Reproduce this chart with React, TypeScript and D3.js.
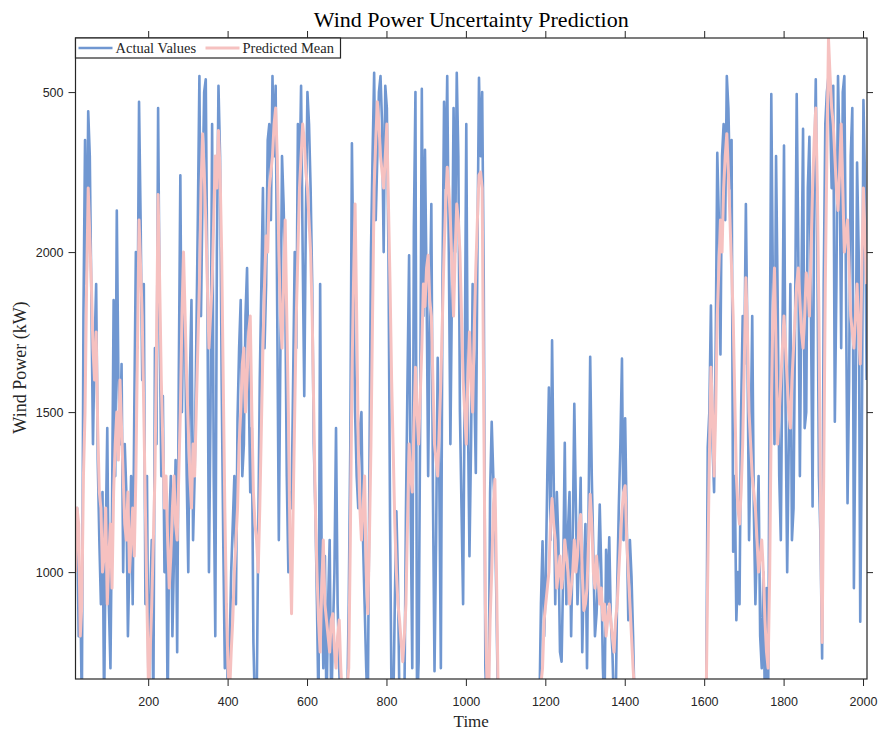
import React, { useEffect, useRef } from 'react';
import * as d3 from 'd3';

// time axis: one sample every STEP units, starting at T0
const T0 = 17;
const STEP = 4;

// actual wind power (kW); values under the axis floor are clipped
const actualValues = [
  // t 17 - 405
  1150, 1200, 800, 950, 560, 1800, 2350, 1900, 2440, 2300,
  1850, 1400, 1700, 1900, 1350, 1100, 900, 1250, 560, 1100,
  1450, 900, 700, 1200, 1850, 1300, 2130, 1600, 1400, 1650,
  1000, 1400, 1250, 800, 1050, 1300, 900, 1500, 2000, 1700,
  2470, 2100, 1600, 1900, 900, 1300, 560, 900, 1100, 560,
  1700, 1400, 2450, 1800, 1300, 1550, 1000, 1250, 560, 1150,
  1300, 800, 1050, 1350, 750, 1600, 2240, 1500, 1900, 1750,
  1300, 1000, 1600, 1850, 1100, 1300, 1700, 2100, 2550, 1800,
  2200, 2500, 2540, 1900, 1000, 1500, 2400, 1300, 800, 2000,
  2520, 2300, 1600, 1100, 700, 900, 560, 750,
  // t 409 - 797
  1000, 1150, 1300, 900, 1480, 1700, 1850, 1300, 1400, 1800,
  1950, 1600, 1250, 1450, 780, 560, 560, 1100, 1600, 1900,
  2200, 1700, 1900, 2350, 2400, 2100, 2550, 2300, 2520, 1800,
  1100, 1700, 2300, 2150, 1900, 1300, 1000, 1250, 1200, 1600,
  2000, 1700, 2400, 2200, 2520, 2000, 1550, 2100, 2500, 2400,
  2200, 1900, 1400, 1200, 900, 560, 1900, 1000, 700, 1050,
  560, 900, 1100, 560, 800, 1000, 1450, 900, 700, 560,
  560, 560, 560, 560, 900, 1400, 2340, 1900, 1500, 1300,
  1200, 1450, 1500, 1100, 900, 700, 560, 1300, 2000, 2300,
  2560, 2100, 2300, 2500, 2550, 2400, 2000, 2520,
  // t 801 - 1085
  2450, 2000, 1170, 560, 560, 900, 1190, 975, 560, 560,
  560, 560, 1180, 1600, 1990, 1200, 700, 2075, 2500, 560,
  720, 1500, 2510, 1800, 2320, 1900, 1300, 1800, 2150, 1250,
  690, 1100, 1670, 1300, 700, 1900, 2470, 2200, 2550, 2000,
  1400, 1900, 2450, 2000, 2560, 2300, 1500, 1200, 900, 1600,
  2400, 1500, 1050, 1400, 1900, 1600, 1310, 2000, 2545, 2300,
  2500, 1900, 700, 560, 560, 1250, 1470, 1300, 1200, 900,
  560, 560,
  // t 1089 - 1181
  560, 560, 560, 560, 560, 560, 560, 560, 560, 560, 560, 560,
  560, 560, 560, 560, 560, 560, 560, 560, 560, 560, 560, 560,
  // t 1185 - 1429
  560, 900, 1096, 800, 975, 1300, 1577, 1100, 1724, 1300,
  900, 1250, 1090, 750, 720, 1000, 1404, 900, 1130, 1250,
  800, 1100, 1526, 1200, 900, 1050, 1295, 750, 1000, 1150,
  700, 1200, 1673, 1300, 1050, 800, 870, 1000, 1211, 1000,
  700, 560, 1070, 900, 1109, 850, 750, 560, 560, 950,
  1200, 1400, 1667, 1100, 1481, 1150, 850, 1100, 987, 800,
  560, 560,
  // t 1433 - 1605
  560, 560, 560, 560, 560, 560, 560, 560, 560, 560, 560, 560,
  560, 560, 560, 560, 560, 560, 560, 560, 560, 560, 560, 560,
  560, 560, 560, 560, 560, 560, 560, 560, 560, 560, 560, 560,
  560, 560, 560, 560, 560, 560, 560, 560,
  // t 1609 - 2009
  1390, 1500, 1833, 1400, 1250, 1700, 2310, 2100, 1680, 2300,
  2400, 2100, 2550, 2450, 2200, 2350, 1064, 1300, 850, 1000,
  900, 1500, 1800, 1650, 2150, 1700, 1100, 1400, 1800, 1200,
  900, 1100, 1300, 800, 700, 1000, 560, 950, 560, 1600,
  2494, 1900, 1400, 2300, 1860, 1300, 1100, 1700, 2333, 1500,
  1000, 1400, 1900, 1100, 1200, 1800, 2494, 2000, 1300, 1900,
  2385, 1450, 1500, 2200, 2360, 1800, 1205, 2200, 2540, 2000,
  1300, 1100, 730, 1900, 2400, 2500, 2550, 2450, 2200, 2520,
  1470, 1900, 2550, 2300, 1700, 2500, 2550, 1900, 1215, 1600,
  2300, 2450, 950, 1500, 2280, 2000, 845, 1400, 2475, 2230,
  1600,
];

// predicted mean (kW)
const predictedMean = [
  // t 17 - 405
  1000, 1200, 1150, 800, 900, 1300, 1500, 1900, 2200, 2050,
  1900, 1700, 1600, 1750, 1450, 1250, 1200, 1000, 1050, 1200,
  900, 1050, 1150, 950, 1250, 1400, 1500, 1350, 1600, 1450,
  1300, 1150, 1100, 1250, 1000, 1100, 1200, 1050, 1300, 1700,
  2100, 1950, 1800, 1500, 1200, 900, 620, 750, 900, 1100,
  1300, 1700, 2180, 1900, 1600, 1400, 1200, 1300, 1100, 950,
  1050, 1200, 1300, 1150, 1100, 1300, 1500, 1800, 2000, 1800,
  1600, 1450, 1300, 1200, 1400, 1300, 1500, 1700, 1900, 2200,
  2370, 2250, 2100, 1900, 1700, 1800, 1900, 2100, 2300, 2200,
  2380, 2250, 2000, 1600, 1200, 900, 700, 620,
  // t 409 - 797
  750, 850, 1000, 1100, 1200, 1400, 1500, 1650, 1700, 1500,
  1600, 1750, 1800, 1500, 1250, 1150, 1100, 1000, 1200, 1450,
  1700, 1900, 2050, 2000, 2200, 2250, 2300, 2400, 2450, 2300,
  2000, 1800, 1700, 1900, 2100, 1800, 1500, 1100, 870, 1200,
  1500, 1800, 2000, 2200, 2300, 2400, 2350, 2250, 2200, 2100,
  2000, 1800, 1500, 1200, 1000, 850, 750, 950, 1100, 900,
  850, 800, 750, 850, 870, 760, 700, 800, 850, 700,
  600, 600, 620, 640, 700, 1100, 1600, 1900, 2150, 1800,
  1400, 1200, 1100, 1200, 1300, 1000, 870, 1100, 1400, 1800,
  2200, 2350, 2470, 2400, 2300, 2250, 2200, 2300,
  // t 801 - 1085
  2400, 2150, 1900, 1600, 1380, 1150, 1000, 900, 850, 780,
  720, 800, 900, 1150, 1400, 1300, 1250, 1450, 1640, 1500,
  1400, 1550, 1700, 1900, 1830, 1950, 1990, 1850, 1800, 1600,
  1400, 1350, 1300, 1450, 1600, 1800, 2000, 2150, 2265, 2200,
  2100, 1950, 1800, 2000, 2150, 2100, 2000, 1800, 1600, 1500,
  1400, 1600, 1750, 1600, 1500, 1750, 1950, 2100, 2240, 2250,
  2200, 1500, 900, 650, 600, 850, 1000, 1200, 1290, 1000,
  640, 600,
  // t 1089 - 1181
  600, 600, 600, 600, 600, 600, 600, 600, 600, 600, 600, 600,
  600, 600, 600, 600, 600, 600, 600, 600, 600, 600, 600, 600,
  // t 1185 - 1429
  600, 650, 700, 850, 900, 950, 1000, 1150, 1230, 1150,
  1100, 950, 1000, 1050, 950, 1000, 1100, 1050, 1000, 900,
  950, 1000, 1100, 1000, 1050, 1150, 1180, 1000, 880, 900,
  950, 1100, 1243, 1150, 1000, 950, 1050, 980, 900, 950,
  850, 900, 800, 850, 900, 850, 795, 750, 850, 900,
  1000, 1100, 1192, 1250, 1270, 1100, 1000, 900, 800, 700,
  620, 600,
  // t 1433 - 1605
  600, 600, 600, 600, 600, 600, 600, 600, 600, 600, 600, 600,
  600, 600, 600, 600, 600, 600, 600, 600, 600, 600, 600, 600,
  600, 600, 600, 600, 600, 600, 600, 600, 600, 600, 600, 600,
  600, 600, 600, 600, 600, 600, 600, 600,
  // t 1609 - 2009
  1000, 1350, 1640, 1500, 1300, 1500, 1800, 1950, 2100, 2000,
  2200, 2300, 2370, 2250, 2100, 1950, 1800, 1550, 1300, 1200,
  1150, 1250, 1400, 1650, 1920, 1750, 1500, 1400, 1300, 1250,
  1200, 1100, 1000, 1050, 1100, 1000, 850, 750, 700, 1000,
  1500, 1800, 1950, 1700, 1400, 1500, 1600, 1700, 1800, 1700,
  1600, 1500, 1450, 1600, 1700, 1800, 1900, 1950, 1850, 1750,
  1700, 1800, 1935, 1900, 1800, 2000, 2200, 2350, 2450, 2200,
  1800, 1200, 780, 1300, 1900, 2300, 2669, 2550, 2450, 2400,
  2300, 2200, 2130, 2250, 2400, 2200, 2000, 2050, 2100, 1950,
  1800, 1750, 1700, 1800, 1900, 1750, 1650, 1950, 2200, 2050,
  1900,
];

const xTicks = [200, 400, 600, 800, 1000, 1200, 1400, 1600, 1800, 2000];
const yTicks = [1000, 1500, 2000, 2500];
const yTickLabels = ['1000', '1500', '2000', '500'];

const BLUE = '#7097d1';
const PINK = '#f6c1c0';
const INK = '#262626';
const SERIF = '"Liberation Serif", "DejaVu Serif", serif';
const SANS = '"Liberation Sans", Arial, sans-serif';

const App = () => {
  const svgRef = useRef(null);

  useEffect(() => {
    const svg = d3.select(svgRef.current);
    svg.selectAll('*').remove();

    const left = 75.5, right = 867, top = 38, bottom = 679;

    const x = d3.scaleLinear().domain([17, 2010]).range([left, right]);
    const y = d3.scaleLinear().domain([666, 2669]).range([bottom, top]);

    svg.append('rect').attr('width', 880).attr('height', 739).attr('fill', '#fff');

    svg.append('clipPath').attr('id', 'plot-clip')
      .append('rect')
      .attr('x', left).attr('y', top)
      .attr('width', right - left).attr('height', bottom - top);

    const time = actualValues.map((_, i) => T0 + i * STEP);
    const line = d3.line<number>()
      .x((_, i) => x(time[i]))
      .y(d => y(d));

    const plot = svg.append('g').attr('clip-path', 'url(#plot-clip)');
    plot.append('path')
      .datum(actualValues)
      .attr('d', line)
      .attr('fill', 'none')
      .attr('stroke', BLUE)
      .attr('stroke-width', 2.6)
      .attr('stroke-linejoin', 'round');
    plot.append('path')
      .datum(predictedMean)
      .attr('d', line)
      .attr('fill', 'none')
      .attr('stroke', PINK)
      .attr('stroke-width', 3)
      .attr('stroke-linejoin', 'round');

    // axes, ticks pointing outward on all four sides
    const styleAxis = g => {
      g.select('.domain').remove();
      g.selectAll('line').attr('stroke', INK).attr('stroke-width', 1);
      g.selectAll('text').attr('fill', INK).style('font-family', SANS).style('font-size', '12.5px');
    };

    svg.append('g')
      .attr('transform', `translate(0,${bottom})`)
      .call(d3.axisBottom(x).tickValues(xTicks).tickSize(7).tickPadding(11)
        .tickFormat(d3.format('d')))
      .call(styleAxis);
    svg.append('g')
      .attr('transform', `translate(0,${top})`)
      .call(d3.axisTop(x).tickValues(xTicks).tickSize(7).tickFormat(() => ''))
      .call(styleAxis);
    svg.append('g')
      .attr('transform', `translate(${left},0)`)
      .call(d3.axisLeft(y).tickValues(yTicks).tickSize(7).tickPadding(5)
        .tickFormat((d, i) => yTickLabels[i]))
      .call(styleAxis);
    svg.append('g')
      .attr('transform', `translate(${right},0)`)
      .call(d3.axisRight(y).tickValues(yTicks).tickSize(6).tickFormat(() => ''))
      .call(styleAxis);

    svg.append('rect')
      .attr('x', left).attr('y', top)
      .attr('width', right - left).attr('height', bottom - top)
      .attr('fill', 'none')
      .attr('stroke', INK)
      .attr('stroke-width', 1.2);

    // title and labels
    svg.append('text')
      .attr('x', (left + right) / 2).attr('y', 27)
      .attr('text-anchor', 'middle')
      .style('font-family', SERIF).style('font-size', '22px')
      .attr('fill', '#000')
      .text('Wind Power Uncertainty Prediction');

    svg.append('text')
      .attr('x', (left + right) / 2).attr('y', 727)
      .attr('text-anchor', 'middle')
      .style('font-family', SERIF).style('font-size', '17px')
      .attr('fill', INK)
      .text('Time');

    svg.append('text')
      .attr('transform', `translate(26,${(top + bottom) / 2 + 9}) rotate(-90)`)
      .attr('text-anchor', 'middle')
      .style('font-family', SERIF).style('font-size', '18px')
      .attr('fill', INK)
      .text('Wind Power (kW)');

    // legend
    const legend = svg.append('g');
    legend.append('rect')
      .attr('x', left).attr('y', top)
      .attr('width', 265).attr('height', 20)
      .attr('fill', '#fff')
      .attr('stroke', INK)
      .attr('stroke-width', 1.2);
    const items = [
      { label: 'Actual Values', color: BLUE, x0: left + 3, width: 2.6 },
      { label: 'Predicted Mean', color: PINK, x0: left + 130, width: 3 },
    ];
    items.forEach(item => {
      legend.append('line')
        .attr('x1', item.x0).attr('x2', item.x0 + 34)
        .attr('y1', top + 10).attr('y2', top + 10)
        .attr('stroke', item.color)
        .attr('stroke-width', item.width);
      legend.append('text')
        .attr('x', item.x0 + 37).attr('y', top + 15)
        .style('font-family', SERIF).style('font-size', '14.5px')
        .attr('fill', INK)
        .text(item.label);
    });
  }, []);

  return (
    <div style={{ position: 'absolute', left: 0, top: 0 }}>
      <svg ref={svgRef} width={880} height={739} style={{ display: 'block' }}></svg>
    </div>
  );
};

export default App;
